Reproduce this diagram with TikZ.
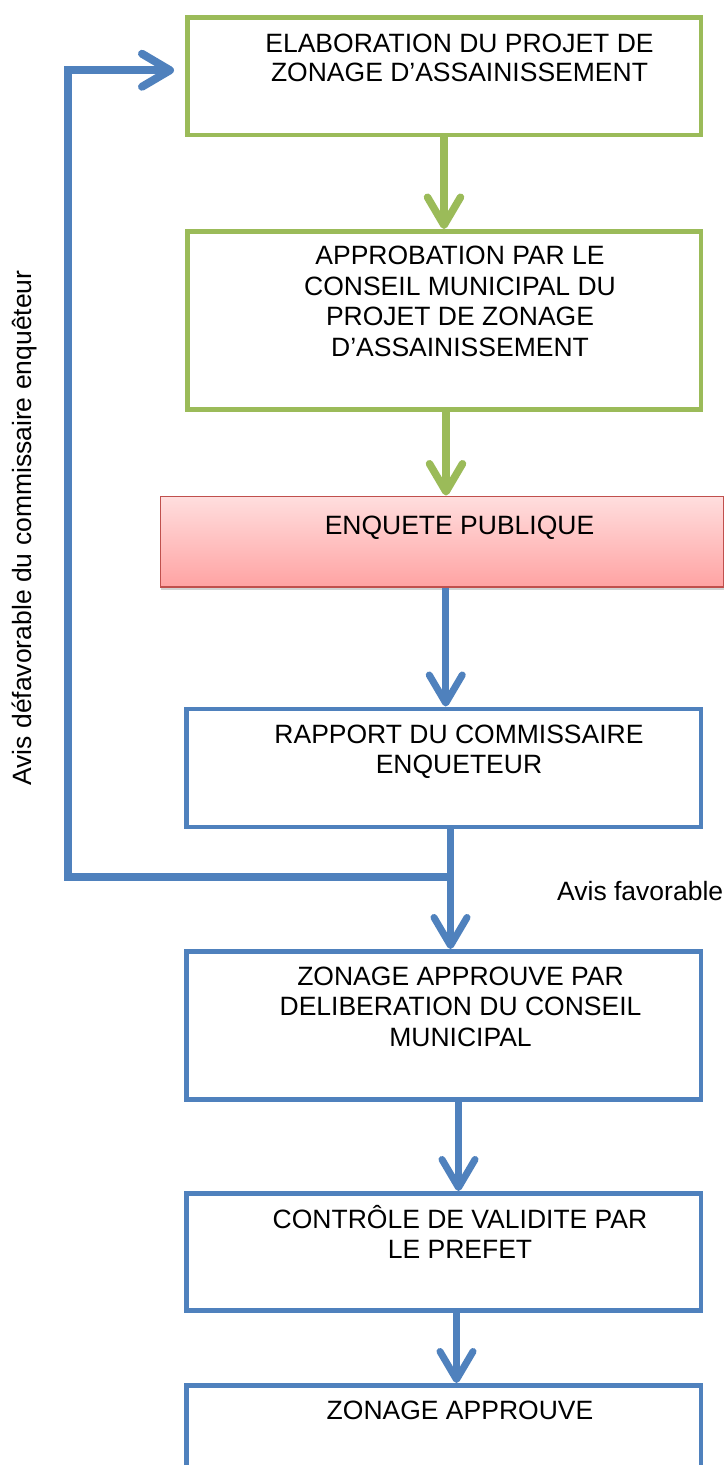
\documentclass[tikz,border=0pt]{standalone}
\usepackage{fontspec}
\setmainfont{Liberation Sans}
\usetikzlibrary{arrows.meta,shadows,calc}
\definecolor{gr}{HTML}{9BBB59}
\definecolor{bl}{HTML}{4F81BD}
\definecolor{rd}{HTML}{C0504D}
\definecolor{rtop}{HTML}{FFDEDE}
\definecolor{rbot}{HTML}{FFA3A3}
\newcommand\mlines[1]{\begin{tabular}[t]{@{}c@{}}#1\end{tabular}}
\begin{document}
\begin{tikzpicture}[x=1pt,y=-1pt,
  box/.style={rectangle, line width=4.5pt, inner sep=0pt, anchor=north west, fill=white},
  gbox/.style={box, draw=gr},
  bbox/.style={box, draw=bl},
  lbl/.style={anchor=base, inner sep=0pt, font=\fontsize{26.5}{30.7}\selectfont},
  garr/.style={draw=gr, line width=7.5pt, -{Straight Barb[length=28pt,width=33pt,round]}},
  barr/.style={draw=bl, line width=7pt, -{Straight Barb[length=28pt,width=33pt,round]}},
  fbarr/.style={draw=bl, line width=8pt, -{Straight Barb[length=28pt,width=33pt,round]}},
]
\useasboundingbox (0,0) rectangle (728,1465);
\clip (0,0) rectangle (728,1465);
\fill[white] (0,0) rectangle (728,1465);

% boxes
\node[gbox, minimum width=513.5pt, minimum height=117.5pt] (b1) at (185,15) {};
\node[gbox, minimum width=513.5pt, minimum height=178pt] (b2) at (185,229) {};
\node[box, draw=rd, line width=1.5pt, top color=rtop, bottom color=rbot,
      drop shadow={opacity=0.35, shadow xshift=1pt, shadow yshift=-3pt},
      minimum width=563pt, minimum height=90.5pt] (b3) at (159.5,495.5) {};
\node[bbox, minimum width=514.5pt, minimum height=118pt] (b4) at (184,706.5) {};
\node[bbox, minimum width=514.5pt, minimum height=148pt] (b5) at (184,949) {};
\node[bbox, minimum width=514.5pt, minimum height=117pt] (b6) at (184,1191) {};
\node[bbox, minimum width=514.5pt, minimum height=130pt] (b7) at (184,1383) {};

% texts
\node[lbl, font=\fontsize{26.5}{29}\selectfont] (t1) at (459.5,52) {\mlines{ELABORATION DU PROJET DE\\ZONAGE D’ASSAINISSEMENT}};
\node[lbl] (t2) at (460,264.5) {\mlines{APPROBATION PAR LE\\CONSEIL MUNICIPAL DU\\PROJET DE ZONAGE\\D’ASSAINISSEMENT}};
\node[lbl] (t3) at (459.5,534) {ENQUETE PUBLIQUE};
\node[lbl] (t4) at (459,743) {\mlines{RAPPORT DU COMMISSAIRE\\ENQUETEUR}};
\node[lbl] (t5) at (460.5,985) {\mlines{ZONAGE APPROUVE PAR\\DELIBERATION DU CONSEIL\\MUNICIPAL}};
\node[lbl] (t6) at (460,1228) {\mlines{CONTRÔLE DE VALIDITE PAR\\LE PREFET}};
\node[lbl] (t7) at (460,1419.5) {ZONAGE APPROUVE};
\node[lbl, anchor=base west] (fav) at (557,900) {Avis favorable};
\node[lbl, anchor=center, rotate=90] (defav) at (24,528) {Avis défavorable du commissaire enquêteur};

% connectors
\draw[garr] (b1.south) -- (b2.north);
\draw[garr] ([xshift=2pt]b2.south) -- ([xshift=2pt]b2.south |- b3.north);
\draw[barr] ([xshift=4pt]b3.south) -- ([xshift=4pt]b3.south |- b4.north);
\coordinate (fb) at (447,877);
\coordinate (c1) at (68,877);
\draw[fbarr, shorten >=11pt] (fb) -- (c1) |- ([yshift=5.75pt]b1.west);
\draw[barr] ([xshift=7pt]b4.south) -- ([xshift=7pt]b4.south |- b5.north);
\draw[barr] ([xshift=15pt]b5.south) -- ([xshift=15pt]b5.south |- b6.north);
\draw[barr] ([xshift=13pt]b6.south) -- ([xshift=13pt]b6.south |- b7.north);
\end{tikzpicture}
\end{document}
